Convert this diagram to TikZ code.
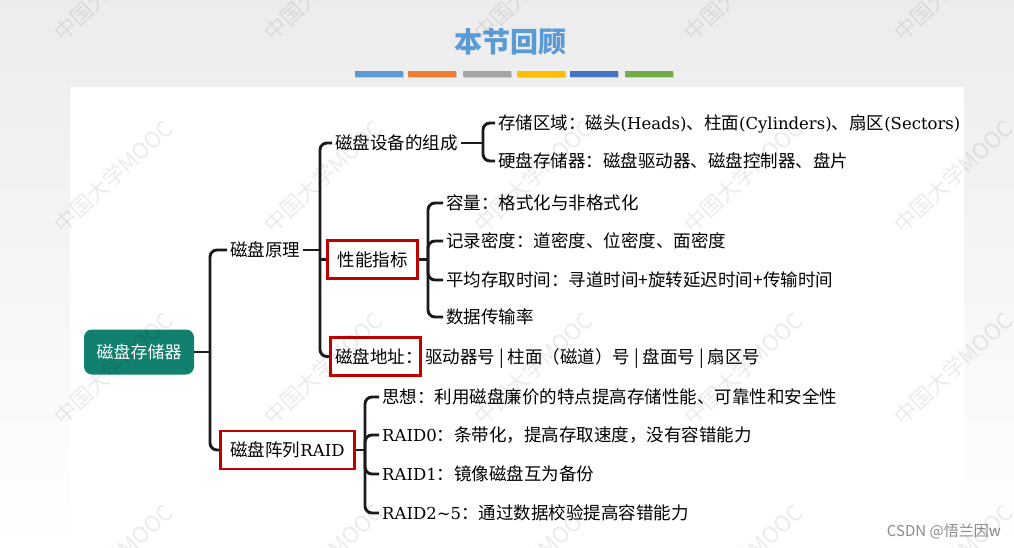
\documentclass[tikz,border=0pt]{standalone}
\usepackage{fontspec}
\setsansfont{Noto Sans CJK SC}
\setmainfont{DejaVu Serif}
\definecolor{rootc}{HTML}{12806E}
\definecolor{redc}{HTML}{C00000}
\definecolor{titlec}{HTML}{5B9BD5}
\definecolor{bA}{HTML}{5B9BD5}
\definecolor{bB}{HTML}{ED7D31}
\definecolor{bC}{HTML}{A5A5A5}
\definecolor{bD}{HTML}{FFC000}
\definecolor{bE}{HTML}{4472C4}
\definecolor{bF}{HTML}{70AD47}
\definecolor{bgtop}{HTML}{ECECEC}
\definecolor{linec}{HTML}{1A1A1A}
\definecolor{csdnc}{HTML}{8C8C8C}
\begin{document}
\begin{tikzpicture}[x=1pt,y=-1pt,
  every node/.style={font=\sffamily\fontsize{17.5}{20}\selectfont},
  txt/.style={anchor=west, inner xsep=3pt, inner ysep=0pt, text height=13pt, text depth=0pt},
  redbox/.style={draw=redc, line width=2.6pt, inner xsep=10pt, inner ysep=0pt, text height=13pt, text depth=0pt, minimum height=38pt},
  conn/.style={draw=linec, line width=2.9pt, rounded corners=7pt},
  wm/.style={anchor=base west, rotate=43, inner sep=0pt, text=black, text opacity=0.08, font=\sffamily\fontsize{22}{24}\selectfont}]
\useasboundingbox (0,0) rectangle (1014,548);
\shade[top color=bgtop, bottom color=white] (0,0) rectangle (1014,548);
\fill[white] (70,87) rectangle (964,548);

% title and bars
\node[font=\sffamily\bfseries\fontsize{28}{30}\selectfont, text=titlec, inner sep=0pt] (title) at (510,42) {本节回顾};
\foreach \x/\c in {355/bA,408/bB,463/bC,517/bD,570/bE,625/bF}{
  \fill[black, opacity=0.15] (\x+1,72.5) rectangle ++(48,6);
  \fill[\c] (\x,71) rectangle ++(48,6);
}

% nodes
\node[fill=rootc, rounded corners=8pt, text=white, minimum width=110pt, minimum height=45pt, inner sep=0pt, text height=13pt, text depth=0pt, font=\sffamily\fontsize{17}{20}\selectfont] (root) at (139,352) {磁盘存储器};
\node[txt] (yl) at (227,250) {磁盘原理};
\node[redbox, inner xsep=10pt] (raid) at (287.5,450) {磁盘阵列{\rmfamily\fontsize{16.5}{20}\selectfont RAID}};
\node[txt] (comp) at (332,143) {磁盘设备的组成};
\node[redbox] (perf) at (372.5,259.5) {性能指标};
\node[redbox, anchor=west, inner xsep=5pt] (addrk) at (329,356.5) {磁盘地址\makebox[10pt][l]{：}};
\node[txt] (addrv) at (422,356.5) {驱动器号 | 柱面（磁道）号 | 盘面号 | 扇区号};

\node[txt] (c1) at (495,123) {存储区域：磁头{\rmfamily\fontsize{16.5}{20}\selectfont(Heads)}、柱面{\rmfamily\fontsize{16.5}{20}\selectfont(Cylinders)}、扇区{\rmfamily\fontsize{16.5}{20}\selectfont(Sectors)}};
\node[txt] (c2) at (495,161) {硬盘存储器：磁盘驱动器、磁盘控制器、盘片};

\node[txt] (p1) at (443,203) {容量：格式化与非格式化};
\node[txt] (p2) at (443,241) {记录密度：道密度、位密度、面密度};
\node[txt] (p3) at (443,280) {平均存取时间：寻道时间+旋转延迟时间+传输时间};
\node[txt] (p4) at (443,317) {数据传输率};

\node[txt] (r1) at (379,397) {思想：利用磁盘廉价的特点提高存储性能、可靠性和安全性};
\node[txt] (r2) at (379,435) {{\rmfamily\fontsize{16.5}{20}\selectfont RAID0}：条带化，提高存取速度，没有容错能力};
\node[txt] (r3) at (379,474) {{\rmfamily\fontsize{16.5}{20}\selectfont RAID1}：镜像磁盘互为备份};
\node[txt] (r4) at (379,513) {{\rmfamily\fontsize{16.5}{20}\selectfont RAID2\textasciitilde5}：通过数据校验提高容错能力};

% junctions
\coordinate (j1) at (210,352);
\coordinate (j2) at (320,250);
\coordinate (j3) at (483,143);
\coordinate (j4) at (428,259.5);
\coordinate (j5) at (365,450);

% connectors
\draw[conn] (root.east) -- (j1);
\draw[conn] (j1) |- (yl.west);
\draw[conn] (j1) |- (raid.west);
\draw[conn] (yl.east) -- (j2);
\draw[conn] (j2) |- (comp.west);
\draw[conn] (j2) |- (addrk.west);
\draw[conn] (j2 |- perf.west) -- (perf.west);
\draw[conn] (comp.east) -- (j3);
\draw[conn] (j3) |- (c1.west);
\draw[conn] (j3) |- (c2.west);
\draw[conn] (perf.east) -- (j4);
\foreach \n in {p1,p2,p3,p4} \draw[conn] (j4) |- (\n.west);
\draw[conn] (raid.east) -- (j5);
\foreach \n in {r1,r2,r3,r4} \draw[conn] (j5) |- (\n.west);

% footer
\node[anchor=east, inner sep=0pt, text=csdnc, font=\sffamily\fontsize{15}{16}\selectfont] (csdn) at (1001,531) {CSDN @悟兰因w};

% watermark
\foreach \x in {63,273,483,693,903}
  \foreach \y in {43,235,427,619}
    \node[wm] at (\x,\y) {中国大学MOOC};
\end{tikzpicture}
\end{document}
